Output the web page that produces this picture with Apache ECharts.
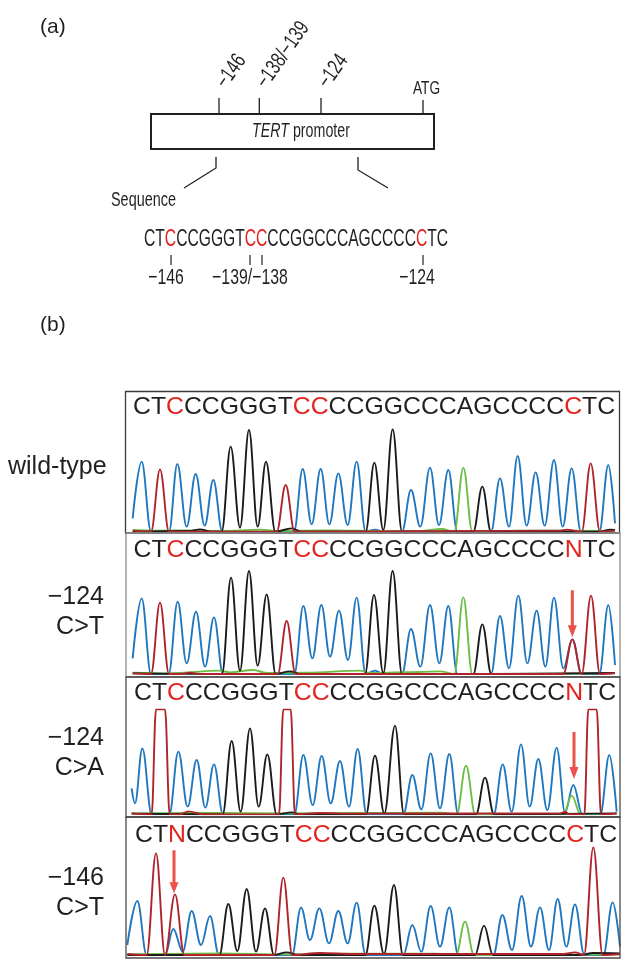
<!DOCTYPE html>
<html><head><meta charset="utf-8">
<script src="https://cdn.jsdelivr.net/npm/echarts@6/dist/echarts.min.js"></script>
<style>html,body{margin:0;padding:0;background:#fff}#c{width:630px;height:969px}</style>
</head><body><div id="c"></div>
<script>
// ---------- DATA ----------
// Panel (a) schematic
const promoterSites = ['\u2212146', '\u2212138/\u2212139', '\u2212124'];
const promoterEnd = 'ATG';
const promoterName = ['TERT', ' promoter'];
const seqA = 'CTCCCGGGTCCCCGGCCCAGCCCCCTC';
const seqARed = [2, 9, 10, 24];
const seqALabels = ['\u2212146', '\u2212139/\u2212138', '\u2212124'];

// Panel (b) called sequences
const panelSeqs = [
  'CTCCCGGGTCCCCGGCCCAGCCCCCTC',
  'CTCCCGGGTCCCCGGCCCAGCCCCNTC',
  'CTCCCGGGTCCCCGGCCCAGCCCCNTC',
  'CTNCCGGGTCCCCGGCCCAGCCCCCTC'
];
const panelRed = [[2, 9, 10, 24], [2, 9, 10, 24], [2, 9, 10, 24], [2, 9, 10, 24]];
const panelLabels = [['wild-type'], ['\u2212124', 'C>T'], ['\u2212124', 'C>A'], ['\u2212146', 'C>T']];

// Chromatogram traces: [scan position, signal], peaks and valleys
// wild-type
const wtC = [[38,40],[65,210],[93,0],[147,0],[172,203],[200,15],[227,173],[254,18],[280,155],[307,0],[522,0],[548,188],[575,22],[602,188],[628,22],[655,175],[683,20],[710,210],[737,0],[765,6],[790,0],[846,0],[873,125],[901,15],[930,192],[957,20],[985,185],[1012,0],[1113,0],[1140,160],[1167,15],[1193,227],[1220,18],[1247,178],[1274,18],[1302,215],[1328,15],[1355,190],[1383,0],[1438,0],[1465,200],[1485,25]];
const wtT = [[38,3],[93,0],[120,187],[147,0],[470,0],[497,140],[524,0],[1320,3],[1340,6],[1385,0],[1412,205],[1440,0],[1485,3]];
const wtG = [[38,0],[210,2],[240,7],[272,0],[305,0],[332,255],[360,12],[387,305],[413,15],[438,210],[466,0],[515,10],[545,0],[737,0],[763,207],[790,5],[818,307],[846,0],[1060,0],[1087,135],[1113,0],[1440,0],[1470,6],[1485,5]];
const wtA = [[38,5],[100,3],[200,4],[300,2],[420,6],[480,2],[600,4],[700,3],[900,2],[965,8],[1003,0],[1030,192],[1057,0],[1200,3],[1485,2]];
// -124 C>T
const ctC = [[38,47],[65,227],[93,0],[146,0],[173,217],[200,32],[228,187],[255,22],[282,170],[309,0],[523,0],[550,204],[577,47],[604,207],[630,52],[657,190],[684,42],[710,229],[737,0],[765,10],[790,0],[846,0],[873,135],[901,22],[930,207],[958,32],[985,204],[1012,0],[1113,0],[1140,174],[1167,17],[1195,235],[1222,32],[1250,190],[1276,22],[1302,229],[1330,17],[1357,104],[1385,0],[1438,0],[1465,207],[1485,27]];
const ctT = [[38,2],[93,0],[120,214],[147,0],[180,0],[210,4],[240,0],[473,0],[500,159],[527,0],[1330,0],[1357,104],[1385,0],[1413,235],[1440,0],[1485,3]];
const ctG = [[38,2],[306,0],[333,289],[360,10],[387,309],[413,25],[440,239],[467,0],[510,8],[540,0],[735,0],[762,237],[790,3],[818,309],[846,0],[1060,0],[1087,149],[1114,0],[1485,3]];
const ctA = [[38,4],[150,2],[300,10],[330,5],[400,12],[440,3],[560,4],[720,10],[750,3],[900,6],[960,8],[1003,0],[1030,230],[1057,0],[1485,2]];
// -124 C>A
const caC = [[35,78],[45,33],[67,198],[95,0],[148,0],[175,188],[203,23],[230,163],[256,20],[282,150],[309,0],[523,0],[550,178],[578,28],[605,175],[632,33],[660,160],[687,23],[713,196],[740,0],[850,0],[877,118],[904,15],[932,183],[960,18],[988,181],[1015,0],[1121,0],[1148,150],[1175,8],[1203,210],[1229,23],[1255,166],[1282,13],[1310,200],[1335,6],[1360,88],[1387,0],[1441,0],[1468,178],[1490,8]];
const caT = [[35,3],[95,0],[108,315],[135,315],[149,0],[180,0],[205,9],[250,0],[477,0],[490,315],[512,315],[525,0],[600,4],[700,2],[1320,3],[1335,7],[1350,0],[1393,0],[1405,315],[1430,315],[1443,0],[1490,3]];
const caG = [[35,2],[308,0],[335,220],[362,8],[390,258],[416,23],[442,180],[470,0],[515,6],[540,0],[738,0],[765,176],[793,3],[825,266],[852,0],[1068,0],[1095,110],[1122,0],[1490,3]];
const caA = [[35,3],[300,4],[500,3],[700,4],[960,5],[1010,0],[1038,146],[1066,0],[1330,0],[1355,56],[1382,0],[1490,2]];
// -146 C>T
const ntC = [[22,30],[52,162],[80,0],[135,0],[160,78],[188,10],[215,132],[243,30],[270,117],[297,0],[516,0],[543,142],[570,45],[598,140],[627,35],[655,132],[683,35],[710,157],[737,0],[850,0],[877,90],[904,10],[932,147],[960,25],[988,143],[1015,0],[1120,0],[1147,120],[1176,15],[1205,177],[1233,25],[1260,143],[1287,15],[1313,168],[1339,25],[1365,152],[1393,0],[1450,0],[1478,158],[1500,25]];
const ntT = [[22,3],[80,0],[108,305],[135,0],[165,182],[193,0],[463,0],[490,232],[517,0],[600,6],[700,3],[1330,3],[1365,8],[1392,0],[1420,323],[1448,0],[1500,3]];
const ntG = [[22,0],[298,0],[325,153],[352,12],[380,198],[408,10],[435,140],[462,0],[500,8],[535,0],[736,0],[763,148],[792,3],[822,210],[849,0],[1065,0],[1092,88],[1119,0],[1380,0],[1420,6],[1500,5]];
const ntA = [[22,2],[300,5],[500,2],[700,4],[950,4],[1008,0],[1035,100],[1062,0],[1500,2]];

const panelTraces = [
  {C: wtC, T: wtT, G: wtG, A: wtA},
  {C: ctC, T: ctT, G: ctG, A: ctA},
  {C: caC, T: caT, G: caG, A: caA},
  {C: ntC, T: ntT, G: ntG, A: ntA}
];
// Red arrows (scan position, signal level of tip); null = none
const arrows = [null, [1357, 110], [1362, 106], [162, 185]];

// ---------- LAYOUT / STYLE ----------
const ink = '#231f20';
const red = '#e3241d';
const FONT = '"Liberation Sans", Arial, sans-serif';
const chanColor = {C: '#1f77c0', A: '#6dbd45', G: '#1c1a1b', T: '#b0232b'};
const chanOrder = ['C', 'A', 'G', 'T'];
const grids = [
  {top: 420, base: 531.67},
  {top: 565, base: 674},
  {top: 709.33, base: 814.33},
  {top: 845, base: 955}
];
const frames = [[125.5, 391.5, 619.5, 533], [126, 533, 620, 677], [126, 677, 620, 817], [126, 817, 620, 958]];
const frameColor = ['#3a3a3a', '#8a8a8a', '#4a4a4a', '#4a4a4a'];
const textRowY = [407, 550, 693, 835];
const textRowX = [133, 133.5, 134, 135];
const labelY = [[467], [597, 627], [738, 768], [878, 908]];
const arrowLen = [0, 47, 47, 43];

function richSeq(seq, reds) {
  let s = '';
  for (let i = 0; i < seq.length; i++) {
    s += (reds.indexOf(i) >= 0 ? '{r|' : '{k|') + seq[i] + '}';
  }
  return s;
}

const graphic = [];
// (a) / (b)
graphic.push({type: 'text', x: 40, y: 27, style: {text: '(a)', font: '21px ' + FONT, fill: ink, verticalAlign: 'middle'}});
graphic.push({type: 'text', x: 40, y: 325, style: {text: '(b)', font: '21px ' + FONT, fill: ink, verticalAlign: 'middle'}});
// promoter box
graphic.push({type: 'rect', shape: {x: 151, y: 114, width: 283, height: 35}, style: {fill: '#fff', stroke: ink, lineWidth: 2}});
graphic.push({type: 'text', x: 301, y: 132, scaleX: 0.73, style: {
  text: '{i|' + promoterName[0] + '}' + promoterName[1], font: '19.5px ' + FONT, fill: ink,
  align: 'center', verticalAlign: 'middle', rich: {i: {font: 'italic 19.5px ' + FONT, fill: ink}}}});
const siteX = [219, 259.3, 321];
siteX.forEach((x, i) => {
  graphic.push({type: 'line', shape: {x1: x, y1: 98, x2: x, y2: 114}, style: {stroke: ink, lineWidth: 1.3}});
  graphic.push({type: 'text', x: x + 2, y: 86, rotation: 55 * Math.PI / 180, scaleX: 0.72, style: {
    text: promoterSites[i], font: '22px ' + FONT, fill: ink, align: 'left', verticalAlign: 'middle'}});
});
graphic.push({type: 'line', shape: {x1: 423, y1: 100, x2: 423, y2: 114}, style: {stroke: ink, lineWidth: 1.3}});
graphic.push({type: 'text', x: 426.5, y: 89, scaleX: 0.72, style: {text: promoterEnd, font: '19px ' + FONT, fill: ink, align: 'center', verticalAlign: 'middle'}});
graphic.push({type: 'polyline', shape: {points: [[216, 157], [216, 168], [184, 188]]}, style: {stroke: ink, lineWidth: 1.3, fill: null}});
graphic.push({type: 'polyline', shape: {points: [[358, 157], [358, 170], [388, 188]]}, style: {stroke: ink, lineWidth: 1.3, fill: null}});
graphic.push({type: 'text', x: 111, y: 201, scaleX: 0.74, style: {text: 'Sequence', font: '19.5px ' + FONT, fill: ink, align: 'left', verticalAlign: 'middle'}});
graphic.push({type: 'text', x: 144, y: 240, scaleX: 0.68, style: {
  text: richSeq(seqA, seqARed), font: '23px ' + FONT, fill: ink, align: 'left', verticalAlign: 'middle',
  rich: {k: {fill: ink, font: '23px ' + FONT}, r: {fill: red, font: '23px ' + FONT}}}});
[171, 250, 262, 423].forEach(x => {
  graphic.push({type: 'line', shape: {x1: x, y1: 255, x2: x, y2: 265}, style: {stroke: ink, lineWidth: 1.2}});
});
[166, 250, 417].forEach((x, i) => {
  graphic.push({type: 'text', x: x, y: 278, scaleX: 0.72, style: {text: seqALabels[i], font: '22px ' + FONT, fill: ink, align: 'center', verticalAlign: 'middle'}});
});

// (b) frames, sequences, labels
frames.forEach((f, p) => {
  graphic.push({type: 'rect', z: 50, shape: {x: f[0], y: f[1], width: f[2] - f[0], height: f[3] - f[1]},
    style: {fill: 'none', stroke: frameColor[p], lineWidth: 1.3}});
  graphic.push({type: 'text', x: textRowX[p], y: textRowY[p], style: {
    text: richSeq(panelSeqs[p], panelRed[p]), font: '24.8px ' + FONT, fill: ink, align: 'left', verticalAlign: 'middle',
    rich: {k: {fill: ink, font: '24.8px ' + FONT}, r: {fill: red, font: '24.8px ' + FONT}}}});
  panelLabels[p].forEach((t, j) => {
    if (p === 0) {
      graphic.push({type: 'text', x: 8, y: labelY[p][j], style: {text: t, font: '25px ' + FONT, fill: ink, align: 'left', verticalAlign: 'middle'}});
    } else {
      graphic.push({type: 'text', x: 104, y: labelY[p][j], style: {text: t, font: '25px ' + FONT, fill: ink, align: 'right', verticalAlign: 'middle'}});
    }
  });
});

const gridOpt = [], xAxes = [], yAxes = [], series = [];
grids.forEach((g, p) => {
  const h = g.base - g.top;
  gridOpt.push({left: 125, width: 495, top: g.top, height: h, containLabel: false});
  xAxes.push({type: 'value', gridIndex: p, min: 15, max: 1500, show: false});
  yAxes.push({type: 'value', gridIndex: p, min: 0, max: h * 3, show: false});
  chanOrder.forEach(ch => {
    series.push({type: 'line', xAxisIndex: p, yAxisIndex: p, data: panelTraces[p][ch], symbol: 'none', showSymbol: false,
      smooth: 0.38, smoothMonotone: 'x', silent: true, animation: false,
      lineStyle: {color: chanColor[ch], width: 1.9}});
  });
  if (arrows[p]) {
    const L = arrowLen[p];
    series.push({type: 'scatter', xAxisIndex: p, yAxisIndex: p, data: [arrows[p]], clip: false, silent: true, animation: false, z: 20,
      symbol: 'path://M3,0 L6,0 L6,35 L9,35 L4.5,47 L0,35 L3,35 Z', symbolSize: [9, L], symbolOffset: [0, -L / 2],
      itemStyle: {color: '#e8261f'}});
  }
});

const chart = echarts.init(document.getElementById('c'), null, {renderer: 'canvas'});
chart.setOption({
  backgroundColor: '#ffffff',
  animation: false,
  grid: gridOpt,
  xAxis: xAxes,
  yAxis: yAxes,
  series: series,
  graphic: {elements: graphic}
});
</script></body></html>
